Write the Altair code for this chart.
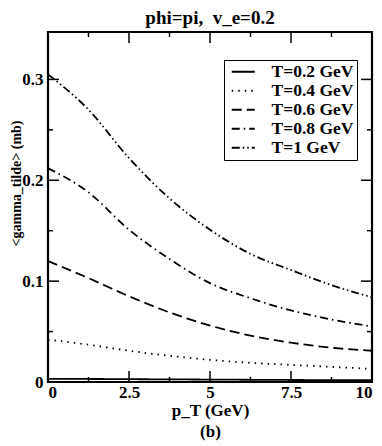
import altair as alt
import pandas as pd

pt = [0, 1.25, 2.5, 3.75, 5, 6.25, 7.5, 8.75, 10]
labels = ["T=0.2 GeV", "T=0.4 GeV", "T=0.6 GeV", "T=0.8 GeV", "T=1 GeV"]
g02 = [0.003, 0.003, 0.0028, 0.0026, 0.0024, 0.0022, 0.002, 0.0019, 0.0018]
g04 = [0.042, 0.037, 0.031, 0.026, 0.022, 0.019, 0.017, 0.015, 0.013]
g06 = [0.120, 0.103, 0.085, 0.069, 0.056, 0.046, 0.039, 0.034, 0.031]
g08 = [0.212, 0.188, 0.151, 0.122, 0.098, 0.083, 0.071, 0.062, 0.055]
g10 = [0.305, 0.270, 0.222, 0.182, 0.151, 0.127, 0.111, 0.096, 0.084]
series = [g02, g04, g06, g08, g10]
dashes = [[1, 0], [1.5, 5], [10, 5], [8, 4, 1.5, 4], [8, 3, 1.5, 3, 1.5, 3]]

x_major = [0, 2.5, 5, 7.5, 10]
x_minor = [1.25, 3.75, 6.25, 8.75]
y_major = [0, 0.1, 0.2, 0.3]
y_minor = [0.05, 0.15, 0.25]

W, H = 324, 350
FONT = "Liberation Serif"

rows = []
for lab, vals in zip(labels, series):
    for x, v in zip(pt, vals):
        rows.append({"pt": x, "g": v, "T": lab})
df = pd.DataFrame(rows)

xs = alt.Scale(domain=[0, 10], nice=False, zero=False)
ys = alt.Scale(domain=[0, 0.347], nice=False, zero=False)

lines = alt.Chart(df).mark_line(strokeWidth=1.8, interpolate="monotone", clip=True).encode(
    x=alt.X("pt:Q", scale=xs,
            axis=alt.Axis(values=x_major, tickSize=0, domain=False, grid=False, format=".1~f",
                          labelPadding=2, title=["p_T (GeV)", "(b)"],
                          titleLineHeight=21, titlePadding=2)),
    y=alt.Y("g:Q", scale=ys,
            axis=alt.Axis(values=y_major, tickSize=0, domain=False, grid=False, format=".1~f",
                          labelPadding=5, title="<gamma_tilde> (mb)",
                          titleFontSize=14, titleY=151, titleX=-32,
                          titleBaseline="middle", titleAlign="center")),
    color=alt.value("black"),
    strokeDash=alt.StrokeDash("T:N", scale=alt.Scale(domain=labels, range=dashes),
                              sort=labels,
                              legend=alt.Legend(title=None, orient="none", legendX=176, legendY=28,
                                                symbolType="M-0.8,0H3.8", symbolSize=100,
                                                symbolStrokeWidth=2, symbolStrokeColor="black",
                                                labelFontSize=17.5, labelFont=FONT,
                                                labelFontWeight="bold", labelOffset=27,
                                                rowPadding=0, padding=3,
                                                strokeColor="black", fillColor="white")),
)

def xticks(vals, length):
    d = pd.DataFrame({"t": vals})
    top = alt.Chart(d).mark_rule(color="black", strokeWidth=1.5).encode(
        x=alt.X("t:Q", scale=xs), y=alt.value(0), y2=alt.value(length))
    bot = alt.Chart(d).mark_rule(color="black", strokeWidth=1.5).encode(
        x=alt.X("t:Q", scale=xs), y=alt.value(H), y2=alt.value(H - length))
    return [top, bot]

def yticks(vals, length):
    d = pd.DataFrame({"t": vals})
    left = alt.Chart(d).mark_rule(color="black", strokeWidth=1.5).encode(
        y=alt.Y("t:Q", scale=ys), x=alt.value(0), x2=alt.value(length))
    right = alt.Chart(d).mark_rule(color="black", strokeWidth=1.5).encode(
        y=alt.Y("t:Q", scale=ys), x=alt.value(W), x2=alt.value(W - length))
    return [left, right]

layers = xticks(x_major, 11) + xticks(x_minor, 5) + yticks(y_major, 11) + yticks(y_minor, 5) + [lines]

chart = alt.layer(*layers).properties(
    width=W, height=H,
    title=alt.Title("phi=pi,\u00a0 v_e=0.2", fontSize=19, font=FONT, fontWeight="bold",
                    anchor="middle", offset=3, color="black"),
    autosize=alt.AutoSizeParams(type="none"),
    padding={"left": 40, "top": 24, "right": 2, "bottom": 62},
).configure_view(stroke="black", strokeWidth=2.2).configure_axis(
    labelFont=FONT, labelFontSize=17, labelFontWeight="bold", labelColor="black",
    titleFont=FONT, titleFontSize=17, titleFontWeight="bold", titleColor="black",
)

chart.save("out.html", embed_options={"renderer": "svg", "actions": False})
